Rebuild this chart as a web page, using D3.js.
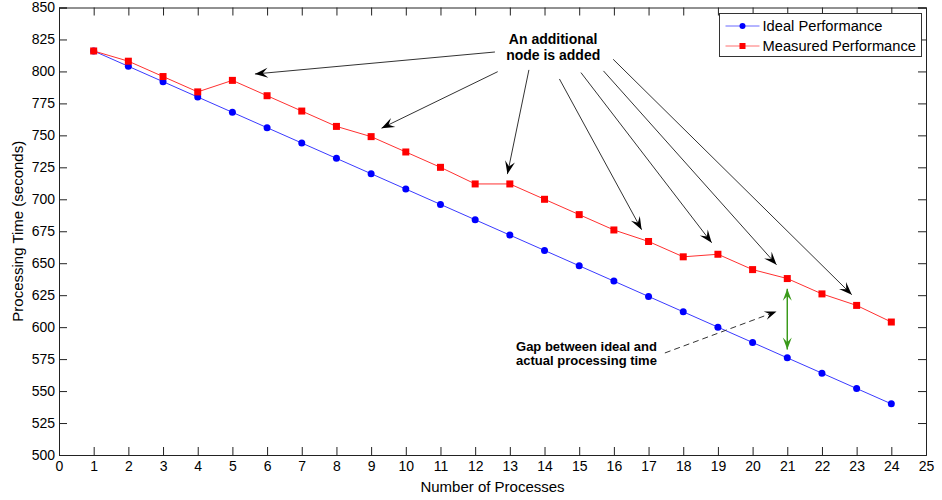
<!DOCTYPE html>
<html>
<head>
<meta charset="utf-8">
<script src="https://cdn.jsdelivr.net/npm/d3@7"></script>
<style>
  body { margin: 0; background: #fff; }
  svg { display: block; font-family: "Liberation Sans", Arial, sans-serif; }
</style>
</head>
<body>
<script>
// data
const processes = [1, 2, 3, 4, 5, 6, 7, 8, 9, 10, 11, 12, 13, 14, 15, 16, 17, 18, 19, 20, 21, 22, 23, 24];
const ideal = [816, 804, 792, 780, 768, 756, 744, 732, 720, 708, 696, 684, 672, 660, 648, 636, 624, 612, 600, 588, 576, 564, 552, 540];
const measured = [816, 808, 796, 784, 793, 781, 769, 757, 749, 737, 725, 712, 712, 700, 688, 676, 667, 655, 657, 645, 638, 626, 617, 604];
const xTicks = d3.range(0, 26);
const yTicks = d3.range(500, 851, 25);
const seriesNames = ["Ideal Performance", "Measured Performance"];

// annotation arrows, [from, to] in data units
const nodeArrows = [
  [[12.57, 815.2], [5.65, 798]],
  [[12.65, 799.8], [9.3, 755.6]],
  [[13.55, 801.2], [12.93, 719.7]],
  [[14.43, 794.1], [16.8, 676.2]],
  [[15.05, 799.1], [18.82, 666]],
  [[15.7, 800.4], [20.69, 648.8]],
  [[15.98, 809.5], [22.86, 625.4]]
];
const gapArrow = [[17.47, 579.8], [20.69, 612.3]];
const gapSpan = [21, 630, 582.5];

const width = 942, height = 500;
const margin = { top: 7.5, right: 16, bottom: 45, left: 59 };
const w = width - margin.left - margin.right,
      h = height - margin.top - margin.bottom;

const svg = d3.select("body").append("svg")
    .attr("width", width)
    .attr("height", height);

const g = svg.append("g")
    .attr("transform", `translate(${margin.left},${margin.top})`);

const x = d3.scaleLinear().domain([0, 25]).range([0, w]);
const y = d3.scaleLinear().domain([500, 850]).range([h, 0]);

// axes with inward ticks on all four sides
const tickLen = 8;
g.append("g")
    .attr("transform", `translate(0,${h})`)
    .call(d3.axisBottom(x).tickValues(xTicks).tickSize(-tickLen).tickPadding(6))
    .call(a => a.selectAll("text").attr("font-size", 14).attr("fill", "#000"));
g.append("g")
    .call(d3.axisTop(x).tickValues(xTicks).tickSize(-tickLen).tickFormat(""));
g.append("g")
    .call(d3.axisLeft(y).tickValues(yTicks).tickSize(-tickLen).tickPadding(4))
    .call(a => a.selectAll("text").attr("font-size", 14).attr("fill", "#000"));
g.append("g")
    .attr("transform", `translate(${w},0)`)
    .call(d3.axisRight(y).tickValues(yTicks).tickSize(-tickLen).tickFormat(""));
g.selectAll(".domain").attr("stroke", "#222");
g.selectAll(".tick line").attr("stroke", "#222");

// axis titles
svg.append("text")
    .attr("x", margin.left + w / 2)
    .attr("y", 492)
    .attr("text-anchor", "middle")
    .attr("font-size", 15)
    .text("Number of Processes");
svg.append("text")
    .attr("transform", `translate(23,${margin.top + h / 2}) rotate(-90)`)
    .attr("text-anchor", "middle")
    .attr("font-size", 15)
    .text("Processing Time (seconds)");

// lines and markers
const line = d3.line().x(d => x(d[0])).y(d => y(d[1]));
const idealPts = processes.map((p, i) => [p, ideal[i]]);
const measPts = processes.map((p, i) => [p, measured[i]]);

g.append("path").datum(idealPts)
    .attr("d", line).attr("fill", "none").attr("stroke", "#3a3aff").attr("stroke-width", 1);
g.append("path").datum(measPts)
    .attr("d", line).attr("fill", "none").attr("stroke", "#ff3030").attr("stroke-width", 1);

g.selectAll(".ideal-pt").data(idealPts).join("circle")
    .attr("class", "ideal-pt")
    .attr("cx", d => x(d[0])).attr("cy", d => y(d[1]))
    .attr("r", 3.5).attr("fill", "#0000ff");
g.selectAll(".meas-pt").data(measPts).join("rect")
    .attr("class", "meas-pt")
    .attr("x", d => x(d[0]) - 3.5).attr("y", d => y(d[1]) - 3.5)
    .attr("width", 7).attr("height", 7).attr("fill", "#ff0000");

// arrow head shaped like matlab's
function arrowHead(sel, p0, p1, color, len, half) {
  const x0 = x(p0[0]), y0 = y(p0[1]), x1 = x(p1[0]), y1 = y(p1[1]);
  const ang = Math.atan2(y1 - y0, x1 - x0);
  const c = Math.cos(ang), s = Math.sin(ang);
  const pt = (a, b) => [x1 - a * c + b * s, y1 - a * s - b * c];
  const pts = [pt(0, 0), pt(len, half), pt(len * 0.6, 0), pt(len, -half)];
  sel.append("path")
      .attr("d", "M" + pts.map(p => p.join(",")).join("L") + "Z")
      .attr("fill", color);
}

const ann = g.append("g");
nodeArrows.forEach(([a, b]) => {
  ann.append("line")
      .attr("x1", x(a[0])).attr("y1", y(a[1]))
      .attr("x2", x(b[0])).attr("y2", y(b[1]))
      .attr("stroke", "#333").attr("stroke-width", 1);
  arrowHead(ann, a, b, "#000", 13, 5);
});

ann.append("text")
    .attr("x", x(14.25)).attr("y", y(821.5))
    .attr("text-anchor", "middle").attr("font-size", 14).attr("font-weight", "bold")
    .text("An additional");
ann.append("text")
    .attr("x", x(14.25)).attr("y", y(809))
    .attr("text-anchor", "middle").attr("font-size", 14).attr("font-weight", "bold")
    .text("node is added");

// gap annotation
ann.append("line")
    .attr("x1", x(gapArrow[0][0])).attr("y1", y(gapArrow[0][1]))
    .attr("x2", x(gapArrow[1][0])).attr("y2", y(gapArrow[1][1]))
    .attr("stroke", "#333").attr("stroke-width", 1).attr("stroke-dasharray", "6,4");
arrowHead(ann, gapArrow[0], gapArrow[1], "#000", 12, 4.5);

const green = "#3a9a1a";
ann.append("line")
    .attr("x1", x(gapSpan[0])).attr("y1", y(gapSpan[1]))
    .attr("x2", x(gapSpan[0])).attr("y2", y(gapSpan[2]))
    .attr("stroke", green).attr("stroke-width", 1.5);
arrowHead(ann, [gapSpan[0], gapSpan[2]], [gapSpan[0], gapSpan[1]], green, 12, 4.5);
arrowHead(ann, [gapSpan[0], gapSpan[1]], [gapSpan[0], gapSpan[2]], green, 12, 4.5);

ann.append("text")
    .attr("x", x(15.21)).attr("y", y(581))
    .attr("text-anchor", "middle").attr("font-size", 13).attr("font-weight", "bold")
    .text("Gap between ideal and");
ann.append("text")
    .attr("x", x(15.21)).attr("y", y(570.5))
    .attr("text-anchor", "middle").attr("font-size", 13).attr("font-weight", "bold")
    .text("actual processing time");

// legend
const lg = svg.append("g").attr("transform", "translate(719.5,13.5)");
lg.append("rect")
    .attr("width", 202).attr("height", 43)
    .attr("fill", "#fff").attr("stroke", "#333").attr("stroke-width", 1);
const legColors = [["#6a6aff", "#0000ff"], ["#ff7070", "#ff0000"]];
seriesNames.forEach((name, i) => {
  const ly = 12.5 + i * 20;
  lg.append("line")
      .attr("x1", 6).attr("x2", 40).attr("y1", ly).attr("y2", ly)
      .attr("stroke", legColors[i][0]).attr("stroke-width", 1);
  if (i === 0) {
    lg.append("circle").attr("cx", 23).attr("cy", ly).attr("r", 3).attr("fill", legColors[i][1]);
  } else {
    lg.append("rect").attr("x", 20).attr("y", ly - 3).attr("width", 6).attr("height", 6).attr("fill", legColors[i][1]);
  }
  lg.append("text")
      .attr("x", 43).attr("y", ly + 5)
      .attr("font-size", 14.7)
      .text(name);
});
</script>
</body>
</html>
